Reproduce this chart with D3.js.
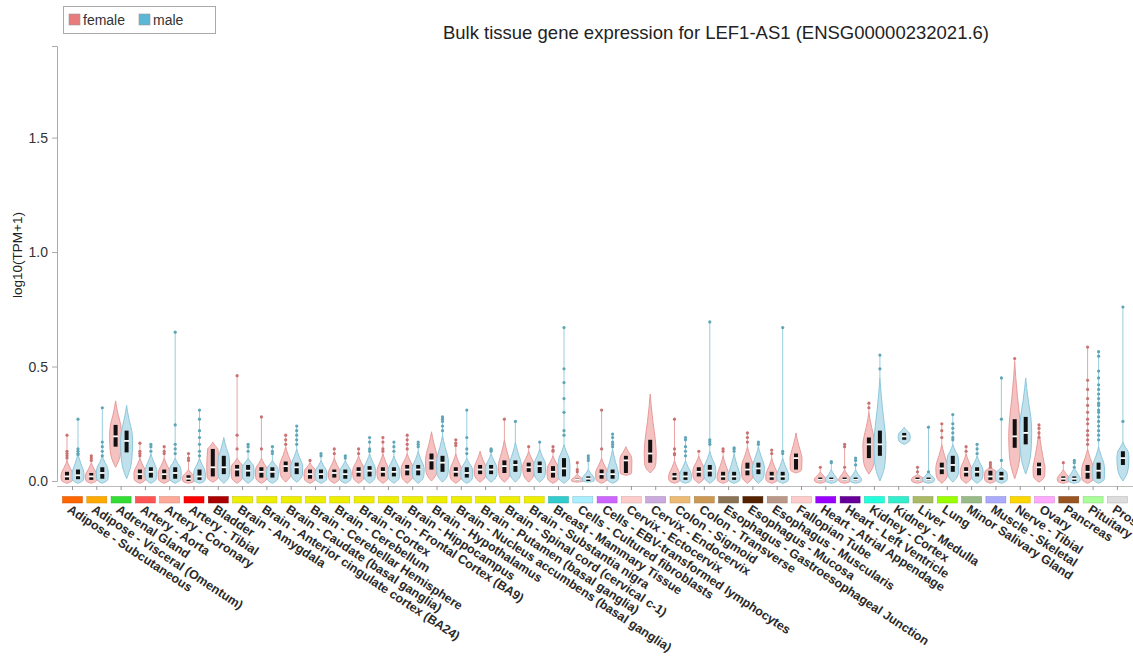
<!DOCTYPE html>
<html>
<head>
<meta charset="utf-8">
<script src="https://cdn.jsdelivr.net/npm/d3@7"></script>
<style>
  html, body { margin: 0; padding: 0; background: #fff; }
  svg { display: block; font-family: "Liberation Sans", Arial, sans-serif; }
</style>
</head>
<body>
<svg id="chart" width="1133" height="664"></svg>
<script>
// ---------------- DATA ----------------
const tissues = [
  "Adipose - Subcutaneous","Adipose - Visceral (Omentum)","Adrenal Gland","Artery - Aorta",
  "Artery - Coronary","Artery - Tibial","Bladder","Brain - Amygdala",
  "Brain - Anterior cingulate cortex (BA24)","Brain - Caudate (basal ganglia)","Brain - Cerebellar Hemisphere",
  "Brain - Cerebellum","Brain - Cortex","Brain - Frontal Cortex (BA9)","Brain - Hippocampus",
  "Brain - Hypothalamus","Brain - Nucleus accumbens (basal ganglia)","Brain - Putamen (basal ganglia)",
  "Brain - Spinal cord (cervical c-1)","Brain - Substantia nigra","Breast - Mammary Tissue",
  "Cells - Cultured fibroblasts","Cells - EBV-transformed lymphocytes","Cervix - Ectocervix",
  "Cervix - Endocervix","Colon - Sigmoid","Colon - Transverse","Esophagus - Gastroesophageal Junction",
  "Esophagus - Mucosa","Esophagus - Muscularis","Fallopian Tube","Heart - Atrial Appendage",
  "Heart - Left Ventricle","Kidney - Cortex","Kidney - Medulla","Liver","Lung","Minor Salivary Gland",
  "Muscle - Skeletal","Nerve - Tibial","Ovary","Pancreas","Pituitary","Prostate"
];
const tissueColors = [
  "#FF6600","#FFAA00","#33DD33","#FF5555","#FFAA99","#FF0000","#AA0000","#EEEE00",
  "#EEEE00","#EEEE00","#EEEE00","#EEEE00","#EEEE00","#EEEE00","#EEEE00",
  "#EEEE00","#EEEE00","#EEEE00","#EEEE00","#EEEE00","#33CCCC",
  "#AAEEFF","#CC66FF","#FFCCCC","#CCAADD","#EEBB77","#CC9955","#8B7355",
  "#552200","#BB9988","#FFCCCC","#9900FF","#660099","#22FFDD","#33EECC","#AABB66","#99FF00","#99BB88",
  "#AAAAFF","#FFD700","#FFAAFF","#995522","#AAFF99","#DDDDDD"
];
// violin summaries: [bottom, q1, median, q3, top of violin body]
const femaleStats = [
  [-0.01,0.005,0.02,0.04,0.09],[-0.01,0.005,0.02,0.035,0.08],[0.06,0.15,0.195,0.245,0.35],[-0.01,0.008,0.03,0.05,0.10],
  [-0.01,0.008,0.03,0.05,0.10],[-0.01,0.0,0.01,0.025,0.05],[-0.005,0.02,0.06,0.14,0.17],[-0.01,0.02,0.05,0.07,0.10],
  [-0.01,0.015,0.04,0.06,0.10],[-0.005,0.04,0.065,0.085,0.15],[-0.01,0.01,0.03,0.05,0.08],
  [-0.01,0.015,0.035,0.05,0.10],[-0.01,0.02,0.04,0.06,0.11],[-0.01,0.02,0.04,0.06,0.12],[-0.01,0.025,0.05,0.07,0.12],
  [0.0,0.05,0.09,0.12,0.215],[-0.01,0.02,0.04,0.06,0.12],[-0.005,0.03,0.05,0.07,0.13],
  [-0.005,0.035,0.065,0.09,0.18],[-0.005,0.04,0.06,0.08,0.13],[-0.01,0.015,0.04,0.065,0.11],
  [-0.005,0.0,0.005,0.01,0.03],[-0.01,0.01,0.03,0.05,0.10],[0.025,0.035,0.09,0.11,0.15],
  [0.035,0.08,0.12,0.18,0.38],[-0.01,0.005,0.02,0.035,0.09],[-0.01,0.02,0.04,0.06,0.11],[-0.01,0.005,0.02,0.04,0.11],
  [-0.01,0.025,0.05,0.08,0.15],[-0.01,0.005,0.02,0.04,0.10],[0.035,0.05,0.10,0.12,0.21],[-0.01,0.0,0.005,0.015,0.04],
  [-0.01,0.0,0.005,0.015,0.05],[0.03,0.10,0.16,0.19,0.30],null,[-0.01,0.0,0.005,0.015,0.03],[-0.01,0.03,0.055,0.08,0.16],[-0.01,0.02,0.04,0.06,0.12],
  [-0.01,0.005,0.02,0.045,0.06],[0.01,0.145,0.195,0.27,0.52],[-0.005,0.025,0.06,0.08,0.22],[-0.01,0.0,0.01,0.02,0.05],[-0.01,0.01,0.04,0.07,0.14],null
];
const maleStats = [
  [-0.01,0.008,0.025,0.05,0.12],[-0.01,0.01,0.035,0.06,0.11],[0.01,0.125,0.175,0.22,0.33],[-0.01,0.015,0.04,0.06,0.12],
  [-0.01,0.01,0.035,0.06,0.10],[-0.01,0.005,0.02,0.05,0.10],[-0.01,0.03,0.06,0.11,0.19],[-0.01,0.02,0.045,0.07,0.10],
  [-0.01,0.015,0.04,0.06,0.09],[-0.005,0.03,0.06,0.08,0.14],[-0.01,0.01,0.03,0.05,0.09],
  [-0.01,0.01,0.03,0.05,0.09],[-0.01,0.02,0.045,0.065,0.12],[-0.01,0.02,0.04,0.06,0.11],[-0.01,0.025,0.05,0.07,0.13],
  [-0.005,0.04,0.08,0.11,0.20],[-0.01,0.015,0.035,0.06,0.10],[-0.005,0.03,0.05,0.07,0.12],
  [-0.005,0.04,0.07,0.09,0.17],[-0.005,0.035,0.065,0.085,0.14],[-0.01,0.02,0.055,0.10,0.16],
  [-0.005,0.0,0.01,0.02,0.05],[-0.01,0.01,0.03,0.05,0.14],null,
  null,[-0.01,0.005,0.02,0.04,0.09],[-0.01,0.02,0.045,0.07,0.13],[-0.01,0.005,0.02,0.04,0.12],
  [-0.01,0.03,0.055,0.08,0.15],[-0.01,0.005,0.02,0.04,0.10],null,[-0.01,0.0,0.005,0.015,0.05],
  [-0.01,0.0,0.005,0.015,0.05],[0.0,0.11,0.16,0.22,0.45],[0.16,0.18,0.195,0.21,0.235],[-0.01,0.0,0.005,0.015,0.04],[-0.005,0.04,0.07,0.11,0.16],[-0.01,0.02,0.04,0.06,0.11],
  [-0.01,0.005,0.02,0.04,0.06],[0.03,0.16,0.21,0.28,0.45],null,[-0.01,0.0,0.01,0.02,0.06],[-0.01,0.01,0.045,0.08,0.15],[0.0,0.07,0.10,0.13,0.17]
];
const femaleOutliers = [
  [0.20,0.13,0.12,0.11,0.10],[0.11,0.10,0.09],[],[0.165,0.13,0.12,0.11],
  [0.15,0.13,0.12],[0.12,0.10,0.09],[],[0.46,0.20,0.14],
  [0.28,0.14],[0.20,0.18,0.16],[0.09],
  [0.14,0.12],[0.14,0.12],[0.19,0.17,0.14,0.13],[0.20,0.18,0.16,0.14],
  [],[0.18,0.165,0.155],[],
  [0.27],[0.15],[0.15,0.135,0.13],
  [0.08,0.05,0.04],[0.31,0.14],[],
  [],[0.27,0.14,0.12,0.115],[0.13],[0.14,0.13],
  [0.21,0.19,0.17],[0.135,0.12],[],[0.06],
  [0.16,0.15,0.06],[0.34,0.32],[],[0.06,0.04],[0.25,0.22,0.19],[0.15,0.13],
  [0.08,0.07,0.06],[0.535],[0.245,0.23,0.21,0.19],[0.08],
  [0.585,0.44,0.40,0.36,0.33,0.30,0.27,0.25,0.22,0.20,0.18,0.16],[]
];
const maleOutliers = [
  [0.27,0.14,0.13,0.12,0.115],[0.32,0.17,0.15,0.13,0.11],[],[0.16,0.15,0.13],
  [0.65,0.245,0.16,0.14,0.12],[0.31,0.27,0.22,0.19,0.16,0.13,0.11],[],[0.16,0.15,0.13],
  [0.15,0.13,0.12],[0.24,0.22,0.20,0.18,0.16],[0.12,0.11],
  [0.11,0.10],[0.19,0.17,0.14,0.13],[0.17,0.15,0.13],[0.17,0.16,0.15],
  [0.28,0.27,0.26,0.24,0.22],[0.31,0.19,0.14,0.12],[0.14,0.135,0.13],
  [0.26],[0.17],[0.67,0.49,0.43,0.36,0.30,0.22,0.20],
  [0.11,0.10,0.09],[0.205,0.19,0.17,0.16,0.15],[],
  [],[0.19,0.18,0.15,0.13,0.11],[0.695,0.18,0.17,0.16],[0.145,0.14,0.13],
  [0.17,0.16],[0.67,0.13,0.12],[],[0.085,0.08],
  [0.10,0.09,0.07],[0.55,0.49],[],[0.235,0.04],[0.29,0.25,0.23,0.21,0.19,0.18],[0.16,0.14,0.12],
  [0.45,0.27,0.09],[],[],[0.09,0.08,0.06],
  [0.565,0.545,0.48,0.45,0.42,0.40,0.38,0.36,0.34,0.33,0.31,0.30,0.28,0.26,0.24,0.22,0.20,0.18],[0.76,0.26]
];
const yTicks = [0, 0.5, 1.0, 1.5];
const titleText = "Bulk tissue gene expression for LEF1-AS1 (ENSG00000232021.6)";
const yLabel = "log10(TPM+1)";
const sexes = ["female", "male"];

// ---------------- STYLE ----------------
const sexStyle = {
  female: { fill: "#f5c2c2", stroke: "#e99a9a", dot: "#c97272", legend: "#e87b7b", off: -5.5 },
  male:   { fill: "#c0e1ec", stroke: "#8cc8dc", dot: "#5ea6b6", legend: "#5cb7d6", off: 5.5 }
};

const svg = d3.select("#chart");
const step = 24.3;
const x = d3.scaleBand().domain(tissues).range([72.5 - step/2, 72.5 - step/2 + step * tissues.length]).padding(0);
const y = d3.scaleLinear().domain([0, 1.9]).range([481, 46]);
const cx = t => x(t) + x.bandwidth() / 2;

// title
svg.append("text").attr("x", 716).attr("y", 39).attr("text-anchor", "middle")
  .attr("font-size", 18.5).attr("fill", "#222").text(titleText);

// legend
const lg = svg.append("g");
lg.append("rect").attr("x", 63.5).attr("y", 6.5).attr("width", 152).attr("height", 27)
  .attr("fill", "#fff").attr("stroke", "#aaa");
sexes.forEach((s, i) => {
  const gx = 69 + i * 70;
  lg.append("rect").attr("x", gx).attr("y", 14).attr("width", 11).attr("height", 11)
    .attr("fill", sexStyle[s].legend).attr("stroke", "#999").attr("stroke-width", 0.6);
  lg.append("text").attr("x", gx + 14).attr("y", 24.5).attr("font-size", 14).attr("fill", "#333").text(s);
});

// y axis
const yAxis = svg.append("g").attr("transform", "translate(57,0)")
  .call(d3.axisLeft(y).tickValues(yTicks).tickFormat(d3.format(".1f")).tickSize(5).tickPadding(4));
yAxis.selectAll("path, line").attr("stroke", "#aaa");
yAxis.selectAll("text").attr("font-size", 14).attr("fill", "#333").attr("font-family", "Liberation Sans, Arial, sans-serif");

svg.append("text").attr("transform", "translate(22,255) rotate(-90)").attr("text-anchor", "middle")
  .attr("font-size", 13.5).attr("fill", "#222").text(yLabel);

// x axis
const xAxis = svg.append("g").attr("transform", "translate(0,486)")
  .call(d3.axisBottom(x).tickSize(4).tickFormat(""));
xAxis.select(".domain").attr("d", "M57,0.5H1133").attr("stroke", "#bbb");
xAxis.selectAll("line").attr("stroke", "#999");

// tissue color boxes
svg.append("g").selectAll("rect").data(tissues).join("rect")
  .attr("x", d => cx(d) - 10).attr("y", 496.5).attr("width", 20).attr("height", 6.5)
  .attr("fill", (d, i) => tissueColors[i])
  .attr("stroke", (d, i) => d3.color(tissueColors[i]).darker(0.6)).attr("stroke-width", 0.5);

// labels
svg.append("g").selectAll("text").data(tissues).join("text")
  .attr("transform", d => `translate(${cx(d) - 1},504) rotate(33.5)`)
  .attr("dy", "0.72em").attr("font-size", 12.5).attr("font-weight", "bold").attr("fill", "#2a2a2a").text(d => d);

// violins
const hw = 6;
const area = d3.area()
  .y(d => y(d[0]))
  .curve(d3.curveMonotoneY);

const vg = svg.append("g");
tissues.forEach((t, i) => {
  sexes.forEach(s => {
    const st = (s === "female" ? femaleStats : maleStats)[i];
    if (!st) return;
    const outs = (s === "female" ? femaleOutliers : maleOutliers)[i];
    const sty = sexStyle[s];
    const c = cx(t) + sty.off;
    const [lo, q1, md, q3, top] = st;
    const prof = [
      [lo, 0], [lo + (q1 - lo) * 0.5, 0.72], [q1, 0.95], [md, 1.0], [q3, 0.85],
      [q3 + (top - q3) * 0.4, 0.45], [q3 + (top - q3) * 0.75, 0.16], [top, 0]
    ];
    const mx = outs.length ? d3.max(outs) : top;
    if (mx > top) {
      vg.append("line").attr("x1", c).attr("x2", c).attr("y1", y(top)).attr("y2", y(mx))
        .attr("stroke", sty.stroke).attr("stroke-width", 0.9);
    }
    vg.append("path").datum(prof)
      .attr("d", area.x0(d => c - d[1] * hw).x1(d => c + d[1] * hw))
      .attr("fill", sty.fill).attr("stroke", sty.stroke).attr("stroke-width", 1);
    vg.selectAll(null).data(outs).join("circle")
      .attr("cx", c).attr("cy", d => y(d)).attr("r", 1.6).attr("fill", sty.dot);
    vg.append("rect").attr("x", c - 2).attr("width", 4)
      .attr("y", y(q3)).attr("height", Math.max(1.5, y(q1) - y(q3))).attr("fill", "#111");
    vg.append("line").attr("x1", c - 2.5).attr("x2", c + 2.5).attr("y1", y(md)).attr("y2", y(md))
      .attr("stroke", "#fff").attr("stroke-width", 1.8);
  });
});
</script>
</body>
</html>
